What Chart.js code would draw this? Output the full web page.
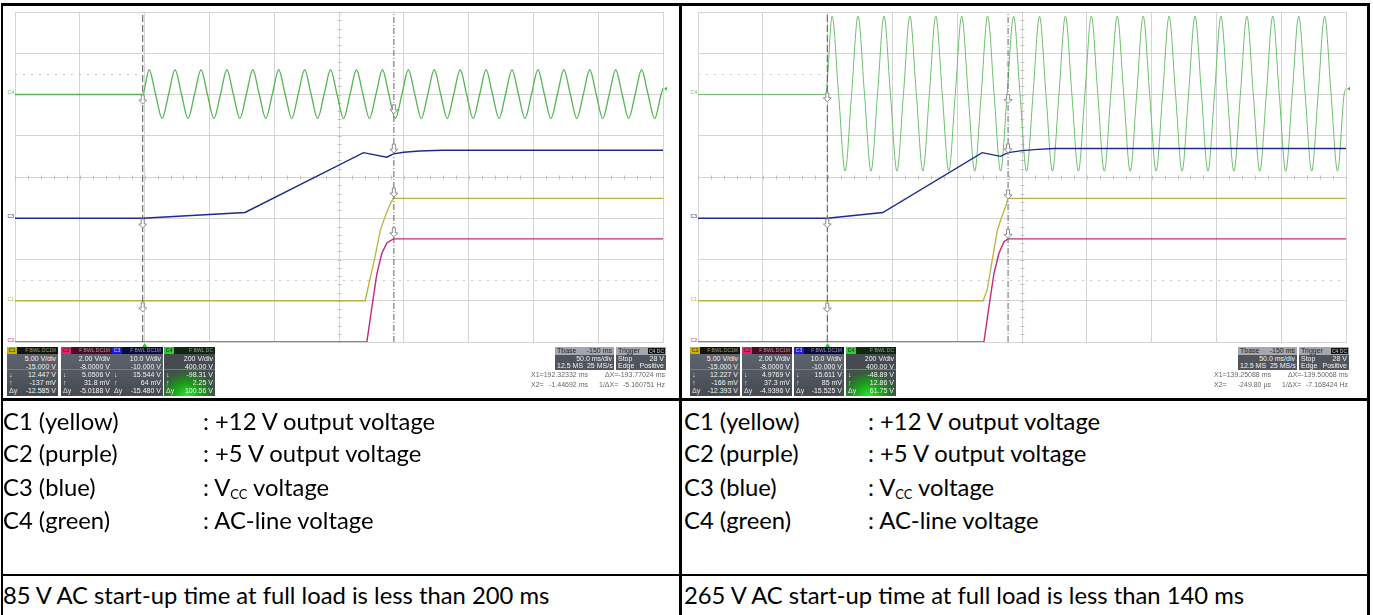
<!DOCTYPE html>
<html><head><meta charset="utf-8">
<script src="https://cdn.jsdelivr.net/npm/chart.js@4.4.0/dist/chart.umd.min.js"></script>
<style>
html,body{margin:0;padding:0;background:#fff;width:1373px;height:615px;overflow:hidden;}
body{position:relative;font-family:Lato,"Open Sans",sans-serif;}
.ln{position:absolute;background:#000;}
canvas{position:absolute;}
.t{position:absolute;white-space:nowrap;font-size:23.8px;color:#000;line-height:1;}
.t sub{font-size:13px;vertical-align:0;position:relative;top:3px;}
.bx{position:absolute;font-family:"Liberation Sans",Arial,sans-serif;font-size:7px;line-height:1;overflow:hidden;}
.s{position:absolute;white-space:nowrap;}
</style></head>
<body>
<canvas id="cL" width="663" height="339" style="left:6px;top:9px"></canvas>
<canvas id="cR" width="661" height="339" style="left:689px;top:9px"></canvas>
<div id="deco"></div>
<script>
// ---------- data ----------
const acTimes = [-100,-1.5,3.5,8.5,13.5,18.5,23.5,28.5,33.5,38.5,43.5,48.5,53.5,58.5,63.5,68.5,73.5,78.5,83.5,88.5,93.5,98.5,103.5,108.5,113.5,118.5,123.5,128.5,133.5,138.5,143.5,148.5,153.5,158.5,163.5,168.5,173.5,178.5,183.5,188.5,193.5,198.5,203.5,208.5,213.5,218.5,223.5,228.5,233.5,238.5,243.5,248.5,253.5,258.5,263.5,268.5,273.5,278.5,283.5,288.5,293.5,298.5,303.5,308.5,313.5,318.5,323.5,328.5,333.5,338.5,343.5,348.5,353.5,358.5,363.5,368.5,373.5,378.5,383.5,388.5,393.5,398.5,400];
const acVoltsL = [0,0,120,0,-117,0,120,0,-117,0,120,0,-117,0,120,0,-117,0,120,0,-117,0,120,0,-117,0,120,0,-117,0,120,0,-117,0,120,0,-117,0,120,0,-117,0,120,0,-117,0,120,0,-117,0,120,0,-117,0,120,0,-117,0,120,0,-117,0,120,0,-117,0,120,0,-117,0,120,0,-117,0,120,0,-117,0,120,0,-117,0,30];
const acVoltsR = [0,0,380,0,-372,0,380,0,-372,0,380,0,-372,0,380,0,-372,0,380,0,-372,0,380,0,-372,0,380,0,-372,0,380,0,-372,0,380,0,-372,0,380,0,-372,0,380,0,-372,0,380,0,-372,0,380,0,-372,0,380,0,-372,0,380,0,-372,0,380,0,-372,0,380,0,-372,0,380,0,-372,0,380,0,-372,0,380,0,-372,0,30];

const vccTimesL = [-100,-1.5,77.5,168.9,186.9,192,200,212,230,400];
const vccVoltsL = [0,0,1.4,15.9,14.8,15.6,16.0,16.3,16.5,16.5];
const out12TimesL = [-100,170.2,174,177.9,181.8,186,190,192,400];
const out12VoltsL = [0,0,2.7,5.4,8.5,10.4,11.9,12.4,12.4];
const out5TimesL = [-100,171.5,175.4,179.2,183.1,186.9,192,400];
const out5VoltsL = [0,0,1.7,3.3,4.3,4.8,5.0,5.0];

const vccTimesR = [-100,-0.3,42.6,119.3,133.4,139.2,150,162,175,400];
const vccVoltsR = [0,0,1.4,15.9,15.0,15.9,16.4,16.7,16.9,16.9];
const out12TimesR = [-100,120.0,123.1,127.0,130.9,134,137.3,139.2,400];
const out12VoltsR = [0,0,1.3,4.9,8.5,10,11.4,12.4,12.4];
const out5TimesR = [-100,120.6,124.5,128.3,132.2,136.1,139.2,400];
const out5VoltsR = [0,0,1.7,3.3,4.3,4.86,5.0,5.0];

const voltsPerDiv = [5, 2, 10, 200];      // C1..C4
const chanOffset = [-15, -8, -10, 400];   // C1..C4
const cursorsL = [192.32332, -1.44692];   // X1, X2 (ms)
const cursorsR = [139.25088, -0.2498];
const atX1L = [12.447, 5.0506, 15.544, -98.31];
const atX2L = [-0.137, 0.0318, 0.064, 2.25];
const atX1R = [12.227, 4.9769, 15.611, -48.89];
const atX2R = [-0.166, 0.0373, 0.085, 12.86];
const triggerLevel = 28;

const boxTextL = [
 ['5.00 V/div','-15.000 V','12.447 V','-137 mV','-12.585 V'],
 ['2.00 V/div','-8.0000 V','5.0506 V','31.8 mV','-5.0188 V'],
 ['10.0 V/div','-10.000 V','15.544 V','64 mV','-15.480 V'],
 ['200 V/div','400.00 V','-98.31 V','2.25 V','100.56 V']];
const boxTextR = [
 ['5.00 V/div','-15.000 V','12.227 V','-166 mV','-12.393 V'],
 ['2.00 V/div','-8.0000 V','4.9769 V','37.3 mV','-4.9396 V'],
 ['10.0 V/div','-10.000 V','15.611 V','85 mV','-15.525 V'],
 ['200 V/div','400.00 V','-48.89 V','12.86 V','61.75 V']];
const cursorTextL = ['192.32332 ms','-193.77024 ms','-1.44692 ms','-5.160751 Hz'];
const cursorTextR = ['139.25088 ms','-139.50068 ms','-249.80 µs','-7.168424 Hz'];

const chanColors = ['#b9b23c','#c4287a','#1f2a8a','#5cb85c'];

// ---------- helpers ----------
const pts = (xs, ys) => xs.map((x, i) => ({x, y: ys[i]}));
const chanAxis = i => ({type:'linear', display:false, min:-4*voltsPerDiv[i]-chanOffset[i], max:4*voltsPerDiv[i]-chanOffset[i]});

function arrow(ctx, px, py, down) {
  const top = down ? py + 1 : py - 10;
  ctx.beginPath();
  ctx.moveTo(px - 1.5, top); ctx.lineTo(px + 1.5, top);
  ctx.lineTo(px + 1.5, top + 5); ctx.lineTo(px + 4, top + 5);
  ctx.lineTo(px, top + 9); ctx.lineTo(px - 4, top + 5);
  ctx.lineTo(px - 1.5, top + 5); ctx.closePath();
  ctx.fillStyle = '#fff'; ctx.fill();
  ctx.strokeStyle = '#8a8a8a'; ctx.lineWidth = 1; ctx.stroke();
}

const scopeDeco = {
  id: 'scopeDeco',
  beforeDatasetsDraw(chart) {
    const {ctx, scales} = chart;
    const o = chart.options.plugins.scopeDeco;
    const xs = scales.x, yd = scales.yDiv;
    ctx.save();
    ctx.strokeStyle = '#c2c2c2'; ctx.lineWidth = 1;
    const cx = Math.round(xs.getPixelForValue(150)) + 0.5;
    const cy = Math.round(yd.getPixelForValue(0)) + 0.5;
    ctx.beginPath();
    for (let t = -100; t <= 400; t += 10) { const p = Math.round(xs.getPixelForValue(t)) + 0.5; ctx.moveTo(p, cy - 2); ctx.lineTo(p, cy + 2); }
    for (let k = -20; k <= 20; k++) { const p = Math.round(yd.getPixelForValue(k / 5)) + 0.5; ctx.moveTo(cx - 2, p); ctx.lineTo(cx + 2, p); }
    ctx.stroke();
    ctx.setLineDash([2, 6]); ctx.strokeStyle = '#c8c8c8';
    const y1 = Math.round(yd.getPixelForValue(2.5)) + 0.5, y2 = Math.round(yd.getPixelForValue(-2.5)) + 0.5;
    ctx.beginPath();
    ctx.moveTo(xs.left, y1); ctx.lineTo(xs.getPixelForValue(o.cursors[1]), y1);
    ctx.moveTo(xs.left, y2); ctx.lineTo(xs.right, y2);
    ctx.stroke();
    ctx.restore();
  },
  afterDatasetsDraw(chart) {
    const {ctx, scales, chartArea} = chart;
    const o = chart.options.plugins.scopeDeco;
    const xs = scales.x;
    ctx.save();
    for (let i = 0; i < 4; i++) {
      const ys = scales['c' + (i + 1)];
      arrow(ctx, xs.getPixelForValue(o.cursors[0]), ys.getPixelForValue(o.at1[i]), false);
      if (i !== 1) arrow(ctx, xs.getPixelForValue(o.cursors[1]), ys.getPixelForValue(o.at2[i]), true);
    }
    ctx.font = '5px "Liberation Sans", Arial';
    ctx.textAlign = 'right'; ctx.textBaseline = 'bottom';
    [0, 1, 2, 3].forEach(i => {
      const ys = scales['c' + (i + 1)];
      ctx.fillStyle = chanColors[i];
      ctx.fillText('C' + (i + 1), chartArea.left - 1, ys.getPixelForValue(0) + 1);
    });
    ctx.fillStyle = '#2fc62f';
    const tx = xs.getPixelForValue(0);
    ctx.beginPath(); ctx.moveTo(tx, chartArea.bottom + 1); ctx.lineTo(tx + 2.5, chartArea.bottom + 5); ctx.lineTo(tx - 2.5, chartArea.bottom + 5); ctx.fill();
    const ty = scales.c4.getPixelForValue(triggerLevel);
    ctx.beginPath(); ctx.moveTo(chartArea.right + 1, ty); ctx.lineTo(chartArea.right + 4, ty - 2); ctx.lineTo(chartArea.right + 4, ty + 2); ctx.fill();
    ctx.restore();
  }
};

function makeScope(id, d, padR, acWidth, acColor) {
  const gridCol = '#d4d4d4';
  return new Chart(document.getElementById(id), {
    type: 'line',
    data: { datasets: [
      {data: [{x: d.cursors[1], y: -4}, {x: d.cursors[1], y: 4}], yAxisID: 'yDiv', borderColor: '#555', borderWidth: 1, borderDash: [7, 3]},
      {data: [{x: d.cursors[0], y: -4}, {x: d.cursors[0], y: 4}], yAxisID: 'yDiv', borderColor: '#666', borderWidth: 1, borderDash: [6, 2, 1, 2]},
      {data: pts(d.vccT, d.vccV), yAxisID: 'c3', borderColor: chanColors[2], borderWidth: 1.4},
      {data: pts(d.o12T, d.o12V), yAxisID: 'c1', borderColor: chanColors[0], borderWidth: 1.3},
      {data: pts(d.o5T, d.o5V), yAxisID: 'c2', borderColor: chanColors[1], borderWidth: 1.4},
      {data: pts(acTimes, d.acV), yAxisID: 'c4', borderColor: acColor, borderWidth: acWidth, cubicInterpolationMode: 'monotone'}
    ]},
    options: {
      responsive: false, animation: false, devicePixelRatio: 1, events: [],
      layout: {padding: {left: 9, top: 3, right: padR, bottom: 6}},
      elements: {point: {radius: 0}, line: {tension: 0, fill: false}},
      plugins: {legend: {display: false}, tooltip: {enabled: false},
        scopeDeco: {cursors: d.cursors, at1: d.at1, at2: d.at2}},
      scales: {
        x: {type: 'linear', min: -100, max: 400, ticks: {stepSize: 50, display: false},
            grid: {color: gridCol, drawTicks: false}, border: {display: true, color: gridCol}},
        yDiv: {type: 'linear', position: 'left', min: -4, max: 4, ticks: {stepSize: 1, display: false},
            grid: {color: gridCol, drawTicks: false}, border: {display: true, color: gridCol}},
        c1: chanAxis(0), c2: chanAxis(1), c3: chanAxis(2), c4: chanAxis(3)
      }
    },
    plugins: [scopeDeco]
  });
}

makeScope('cL', {cursors: cursorsL, at1: atX1L, at2: atX2L, vccT: vccTimesL, vccV: vccVoltsL,
  o12T: out12TimesL, o12V: out12VoltsL, o5T: out5TimesL, o5V: out5VoltsL, acV: acVoltsL}, 6, 1.3, '#55b555');
makeScope('cR', {cursors: cursorsR, at1: atX1R, at2: atX2R, vccT: vccTimesR, vccV: vccVoltsR,
  o12T: out12TimesR, o12V: out12VoltsR, o5T: out5TimesR, o5V: out5VoltsR, acV: acVoltsR}, 4, 1, '#6cbf6c');

// ---------- HTML decorations ----------
const deco = document.getElementById('deco');
function el(tag, cls, style, html) {
  const e = document.createElement(tag);
  if (cls) e.className = cls;
  Object.assign(e.style, style);
  if (html !== undefined) e.innerHTML = html;
  return e;
}
function line(x, y, w, h) { deco.appendChild(el('div', 'ln', {left: x + 'px', top: y + 'px', width: w + 'px', height: h + 'px'})); }
line(1, 3, 1369, 3);
line(1, 3, 2, 612);
line(679, 3, 3, 612);
line(1367, 3, 3, 612);
line(1, 398, 1369, 3);
line(1, 574, 1369, 2);

const hdrBg = ['#151505', '#4a0c22', '#0b0b40', '#0e2a0e'];
const chipCol = ['#c9b100', '#e8206e', '#1c1cd8', '#2ecc2e'];
const chipTxt = ['#222', '#222', '#ddd', '#111'];
function chanBox(x, y, w, i, rows) {
  const b = el('div', 'bx', {left: x + 'px', top: y + 'px', width: w + 'px', height: '49px', background: '#4b5058'});
  b.appendChild(el('div', 's', {left: 0, top: 0, width: w + 'px', height: '7px', background: hdrBg[i]}));
  b.appendChild(el('div', 's', {left: 0, top: 0, width: '10px', height: '7px', background: chipCol[i], color: chipTxt[i], fontSize: '5px', lineHeight: '7px', textAlign: 'center'}, 'C' + (i + 1)));
  b.appendChild(el('div', 's', {right: '2px', top: 0, color: '#9a9a9a', fontSize: '5px', lineHeight: '7px'}, i === 3 ? 'F&nbsp;BWL&nbsp;DC' : 'F&nbsp;BWL&nbsp;DC1M'));
  const bg = i === 3 ? 'radial-gradient(ellipse 70% 75% at 45% 100%, #2ee82e 0%, #1a9e1a 40%, #3c5a40 75%, #464b52 100%)'
                     : 'linear-gradient(#5e646d, #454a52)';
  b.appendChild(el('div', 's', {left: 0, top: '7px', width: w + 'px', height: '42px', background: bg}));
  b.appendChild(el('div', 's', {left: 0, top: '22px', width: w + 'px', height: '1px', background: '#777c84'}));
  const syms = ['', '', '&darr;', '&uarr;', '&Delta;y'];
  rows.forEach((r, k) => {
    const top = 8 + k * 8.1;
    b.appendChild(el('div', 's', {right: '2px', top: top + 'px', color: '#f2f2f2', lineHeight: '8px'}, r));
    if (syms[k]) b.appendChild(el('div', 's', {left: '2px', top: top + 'px', color: '#e6e6e6', lineHeight: '8px'}, syms[k]));
  });
  deco.appendChild(b);
}
[7, 61, 112, 164].forEach((x, i) => chanBox(x, 347, 51, i, boxTextL[i]));
[690, 742, 794, 846].forEach((x, i) => chanBox(x, 347, 50, i, boxTextR[i]));

function timeBoxes(x, ctext) {
  const tb = el('div', 'bx', {left: x + 'px', top: '347px', width: '59px', height: '23px', background: '#50555d'});
  tb.appendChild(el('div', 's', {left: 0, top: 0, width: '59px', height: '7.5px', background: '#a3a8b0'}));
  tb.appendChild(el('div', 's', {left: '2px', top: '0px', color: '#222', lineHeight: '8px'}, 'Tbase'));
  tb.appendChild(el('div', 's', {right: '2px', top: '0px', color: '#222', lineHeight: '8px'}, '-150 ms'));
  tb.appendChild(el('div', 's', {right: '2px', top: '7.5px', color: '#f0f0f0', lineHeight: '8px'}, '50.0 ms/div'));
  tb.appendChild(el('div', 's', {left: '2px', top: '15px', color: '#f0f0f0', lineHeight: '8px'}, '12.5 MS&nbsp;&nbsp;25 MS/s'));
  deco.appendChild(tb);
  const tr = el('div', 'bx', {left: (x + 61) + 'px', top: '347px', width: '50px', height: '23px', background: '#50555d'});
  tr.appendChild(el('div', 's', {left: 0, top: 0, width: '50px', height: '7.5px', background: '#a3a8b0'}));
  tr.appendChild(el('div', 's', {left: '2px', top: '0px', color: '#222', lineHeight: '8px'}, 'Trigger'));
  tr.appendChild(el('div', 's', {right: '1px', top: '1px', width: '17px', height: '5.5px', background: '#111', color: '#ccc', fontSize: '5px', lineHeight: '6px', textAlign: 'center'}, 'C4 DC'));
  tr.appendChild(el('div', 's', {left: '2px', top: '7.5px', color: '#f0f0f0', lineHeight: '8px'}, 'Stop'));
  tr.appendChild(el('div', 's', {right: '2px', top: '7.5px', color: '#f0f0f0', lineHeight: '8px'}, '28 V'));
  tr.appendChild(el('div', 's', {left: '2px', top: '15px', color: '#f0f0f0', lineHeight: '8px'}, 'Edge'));
  tr.appendChild(el('div', 's', {right: '2px', top: '15px', color: '#f0f0f0', lineHeight: '8px'}, 'Positive'));
  deco.appendChild(tr);
  const st = {color: '#666', lineHeight: '8px'};
  const c = el('div', 'bx', {left: (x - 24) + 'px', top: '371px', width: '135px', height: '20px'});
  c.appendChild(el('div', 's', Object.assign({left: '0px', top: '0px'}, st), 'X1='));
  c.appendChild(el('div', 's', Object.assign({right: '78px', top: '0px'}, st), ctext[0]));
  c.appendChild(el('div', 's', Object.assign({left: '74px', top: '0px'}, st), '&Delta;X='));
  c.appendChild(el('div', 's', Object.assign({right: '1px', top: '0px'}, st), ctext[1]));
  c.appendChild(el('div', 's', Object.assign({left: '0px', top: '9.5px'}, st), 'X2='));
  c.appendChild(el('div', 's', Object.assign({right: '78px', top: '9.5px'}, st), ctext[2]));
  c.appendChild(el('div', 's', Object.assign({left: '68px', top: '9.5px'}, st), '1/&Delta;X='));
  c.appendChild(el('div', 's', Object.assign({right: '1px', top: '9.5px'}, st), ctext[3]));
  deco.appendChild(c);
}
timeBoxes(555, cursorTextL);
timeBoxes(1238, cursorTextR);

const legendNames = ['C1 (yellow)', 'C2 (purple)', 'C3 (blue)', 'C4 (green)'];
const legendDesc = [': +12 V output voltage', ': +5 V output voltage', ': V<sub>CC</sub> voltage', ': AC-line voltage'];
const captions = ['85 V AC start-up time at full load is less than 200 ms', '265 V AC start-up time at full load is less than 140 ms'];
const rowTops = [409.5, 441.5, 475.5, 508.5];
[[3, 203], [684, 868]].forEach(([x0, x1], c) => {
  rowTops.forEach((t, k) => {
    deco.appendChild(el('div', 't', {left: x0 + 'px', top: t + 'px'}, legendNames[k]));
    deco.appendChild(el('div', 't', {left: x1 + 'px', top: t + 'px'}, legendDesc[k]));
  });
  deco.appendChild(el('div', 't', {left: x0 + 'px', top: '583.5px'}, captions[c]));
});
</script>
</body></html>
